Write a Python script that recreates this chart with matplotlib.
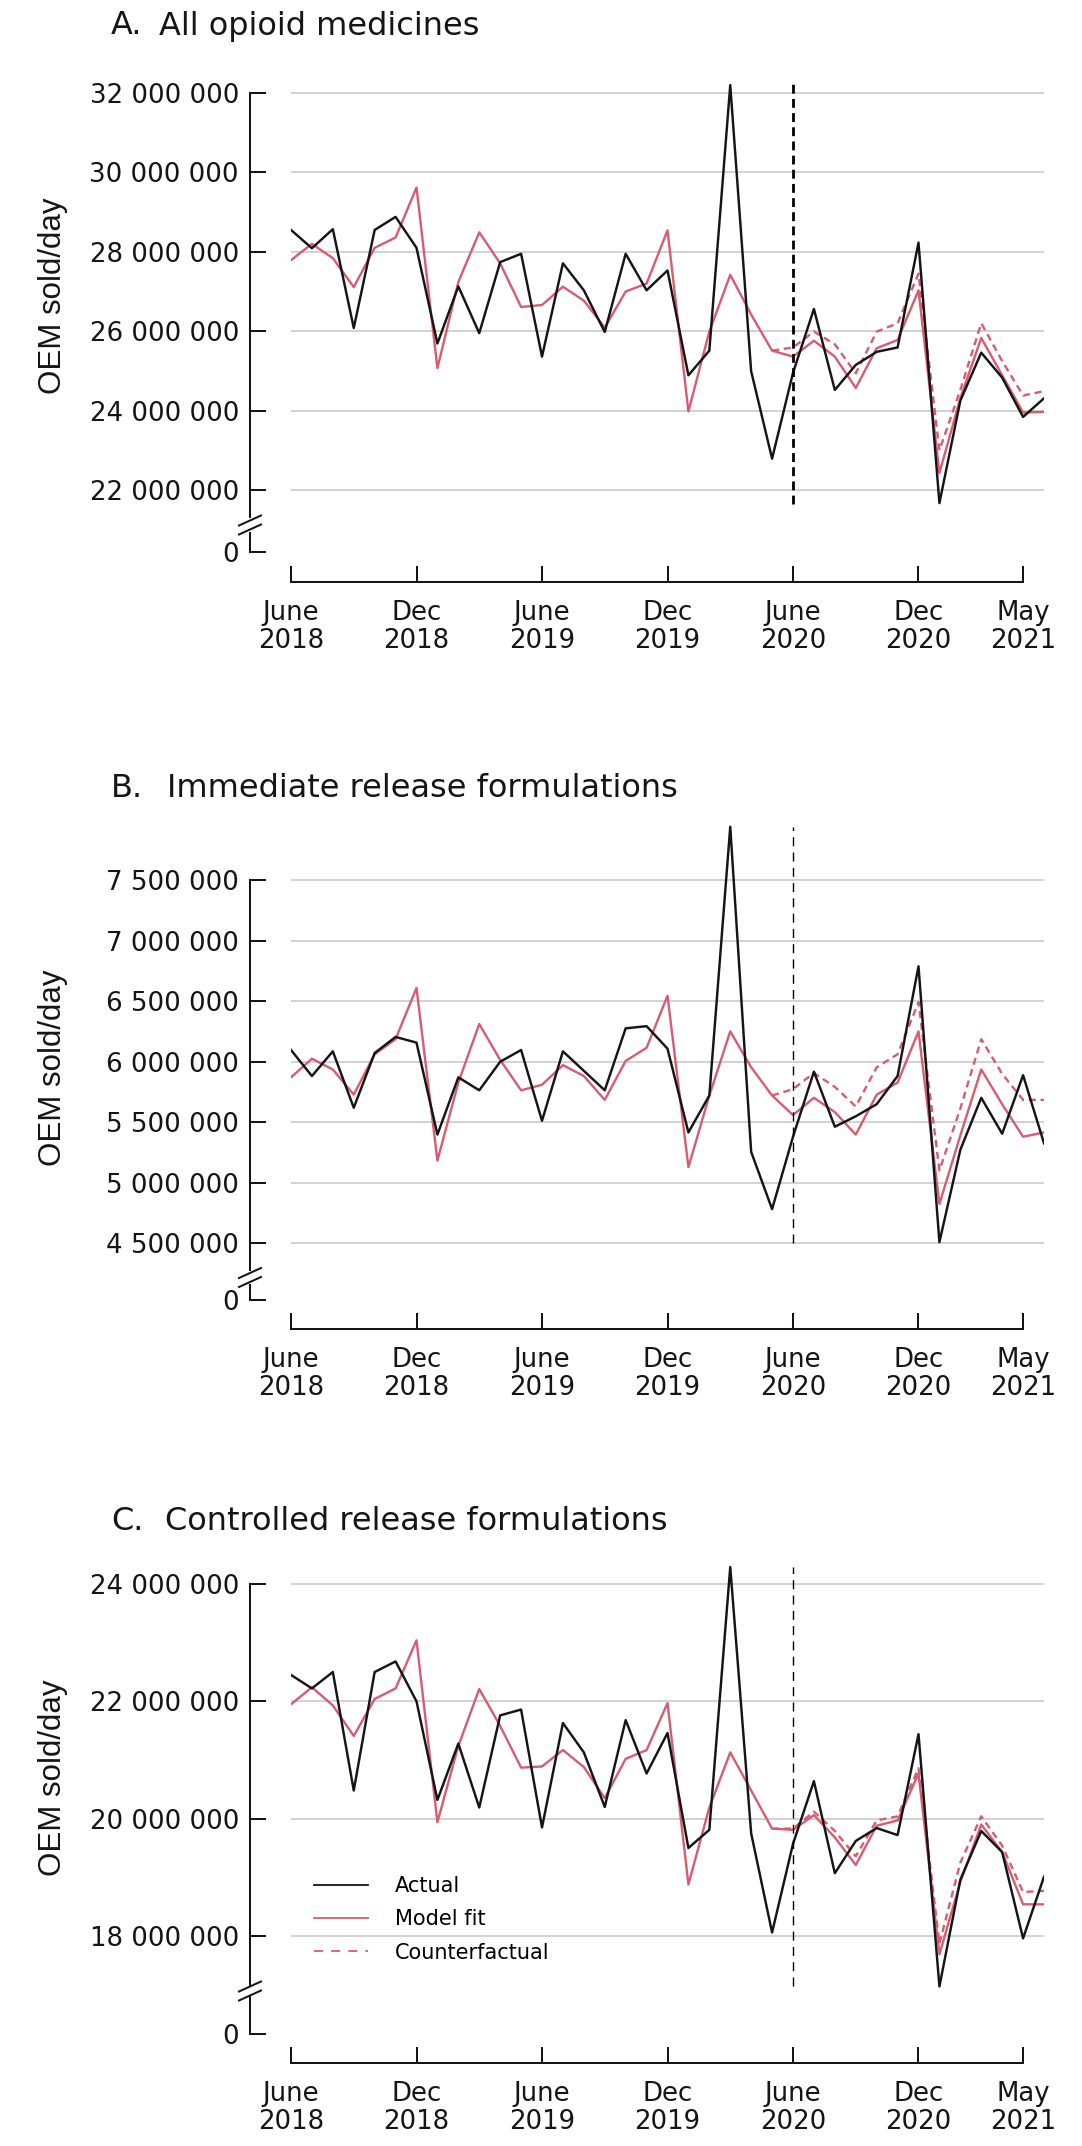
import numpy as np
import matplotlib
matplotlib.use('Agg')
import matplotlib.pyplot as plt
from matplotlib.lines import Line2D

# ---------------- data (millions of OEM sold/day) ----------------
months = np.arange(37)                # June 2018 ... June 2021
cf_start = 23                         # counterfactual drawn from May 2020

xtick_pos = [0, 6, 12, 18, 24, 30, 35]
xtick_labels = ['June\n2018', 'Dec\n2018', 'June\n2019', 'Dec\n2019',
                'June\n2020', 'Dec\n2020', 'May\n2021']

actual_A = [28.55, 28.09, 28.57, 26.08, 28.55, 28.88, 28.10, 25.69, 27.13, 25.95,
            27.74, 27.95, 25.36, 27.71, 27.03, 25.98, 27.95, 27.03, 27.53, 24.89,
            25.51, 32.20, 24.99, 22.79, 24.95, 26.56, 24.52, 25.15, 25.48, 25.59,
            28.23, 21.67, 24.25, 25.46, 24.83, 23.84, 24.31]
model_A = [27.79, 28.20, 27.84, 27.11, 28.10, 28.36, 29.62, 25.07, 27.24, 28.49,
           27.71, 26.61, 26.66, 27.12, 26.77, 26.09, 27.00, 27.20, 28.54, 23.98,
           25.99, 27.42, 26.42, 25.51, 25.36, 25.76, 25.36, 24.57, 25.57, 25.78,
           27.03, 22.43, 24.31, 25.83, 24.89, 23.95, 23.97]
cf_A = [25.51, 25.59, 25.99, 25.67, 24.94, 25.99, 26.20, 27.45, 23.00, 24.52,
        26.20, 25.25, 24.38, 24.49]

actual_B = [6.095, 5.880, 6.084, 5.618, 6.070, 6.203, 6.156, 5.396, 5.869, 5.762,
            5.998, 6.095, 5.510, 6.084, 5.923, 5.762, 6.274, 6.292, 6.106, 5.414,
            5.719, 7.940, 5.253, 4.780, 5.378, 5.916, 5.461, 5.547, 5.647, 5.880,
            6.787, 4.507, 5.270, 5.700, 5.403, 5.887, 5.324]
model_B = [5.869, 6.023, 5.934, 5.726, 6.060, 6.185, 6.608, 5.181, 5.826, 6.310,
           6.013, 5.762, 5.808, 5.970, 5.880, 5.683, 6.005, 6.113, 6.543, 5.127,
           5.719, 6.249, 5.952, 5.719, 5.557, 5.700, 5.582, 5.396, 5.726, 5.826,
           6.249, 4.823, 5.389, 5.934, 5.647, 5.378, 5.414]
cf_B = [5.719, 5.772, 5.905, 5.790, 5.629, 5.952, 6.060, 6.490, 5.100, 5.611,
        6.185, 5.898, 5.683, 5.683]

actual_C = [22.45, 22.22, 22.50, 20.48, 22.50, 22.68, 22.00, 20.32, 21.28, 20.19,
            21.76, 21.86, 19.85, 21.63, 21.13, 20.20, 21.68, 20.77, 21.46, 19.50,
            19.81, 24.29, 19.75, 18.06, 19.57, 20.64, 19.07, 19.62, 19.84, 19.72,
            21.44, 17.14, 18.96, 19.79, 19.43, 17.96, 19.01]
model_C = [21.95, 22.24, 21.93, 21.41, 22.04, 22.22, 23.04, 19.94, 21.24, 22.21,
           21.58, 20.87, 20.89, 21.17, 20.88, 20.35, 21.02, 21.17, 21.97, 18.88,
           20.19, 21.13, 20.48, 19.83, 19.81, 20.06, 19.68, 19.21, 19.88, 19.97,
           20.77, 17.69, 18.92, 19.90, 19.43, 18.54, 18.54]
cf_C = [19.83, 19.83, 20.12, 19.79, 19.36, 19.97, 20.04, 20.86, 17.87, 19.25,
        20.04, 19.54, 18.75, 18.77]

yticks_A = [22, 24, 26, 28, 30, 32]
yticks_B = [4.5, 5.0, 5.5, 6.0, 6.5, 7.0, 7.5]
yticks_C = [18, 20, 22, 24]

legend_labels = ['Actual', 'Model fit', 'Counterfactual']

# ---------------- styling / layout ----------------
W, H = 1082, 2146
fig = plt.figure(figsize=(W / 100, H / 100), dpi=100)
plt.rcParams['font.family'] = ['DejaVu Sans']


def fx(p):
    return p / W


def fy(p):
    return 1 - p / H


BLACK = '#151515'
RED = '#d65c70'
GRID = '#c6c6c6'
AX_L, AX_R = 291, 1044
SPINE_OUT = 41 * 0.72   # px -> pt
TICK_LEN = 16 * 0.72
TICK_W = 1.45


def fmt(v):
    return '{:,.0f}'.format(v).replace(',', ' ')


panels = [
    dict(letter='A.', title='All opioid medicines', title_x=159, title_px=26,
         actual=actual_A, model=model_A, cf=cf_A, yticks=yticks_A,
         tick_top_px=93, tick_low_px=490, top_px=78, bottom_px=517,
         spine_end_px=517, lower_start_px=533, zero_px=552, axis_px=582,
         ylabel_px=296, vline=(21.65, 32.25), vlw=2.0, vdash=(0, (3.2, 1.9))),
    dict(letter='B.', title='Immediate release formulations', title_x=167, title_px=789,
         actual=actual_B, model=model_B, cf=cf_B, yticks=yticks_B,
         tick_top_px=880, tick_low_px=1243, top_px=820, bottom_px=1270,
         spine_end_px=1270, lower_start_px=1285, zero_px=1300, axis_px=1329,
         ylabel_px=1068, vline=(4.5, 7.94), vlw=1.0, vdash=(0, (6.5, 4.5))),
    dict(letter='C.', title='Controlled release formulations', title_x=165, title_px=1522,
         actual=actual_C, model=model_C, cf=cf_C, yticks=yticks_C,
         tick_top_px=1584, tick_low_px=1936, top_px=1560, bottom_px=1995,
         spine_end_px=1985, lower_start_px=1997, zero_px=2034, axis_px=2063,
         ylabel_px=1778, vline=(17.14, 24.29), vlw=1.0, vdash=(0, (6.5, 4.5))),
]

for i, p in enumerate(panels):
    top_tick = p['yticks'][-1] * 1e6
    low_tick = p['yticks'][0] * 1e6
    vpp = (top_tick - low_tick) / (p['tick_low_px'] - p['tick_top_px'])
    y_top = top_tick + (p['tick_top_px'] - p['top_px']) * vpp
    y_bot = low_tick - (p['bottom_px'] - p['tick_low_px']) * vpp
    spine_low = low_tick - (p['spine_end_px'] - p['tick_low_px']) * vpp

    ax = fig.add_axes([fx(AX_L), fy(p['bottom_px']), fx(AX_R) - fx(AX_L),
                       (p['bottom_px'] - p['top_px']) / H])
    ax.set_xlim(0, 36)
    ax.set_ylim(y_bot, y_top)
    for s in ['top', 'right', 'bottom']:
        ax.spines[s].set_visible(False)
    ax.spines['left'].set_position(('outward', SPINE_OUT))
    ax.spines['left'].set_bounds(spine_low, top_tick)
    ax.spines['left'].set_linewidth(TICK_W)
    ax.spines['left'].set_color(BLACK)
    yt = [v * 1e6 for v in p['yticks']]
    ax.set_yticks(yt)
    ax.set_yticklabels([fmt(v) for v in yt])
    ax.tick_params(axis='y', direction='in', length=TICK_LEN, width=TICK_W,
                   pad=8, labelsize=18.7, colors=BLACK)
    ax.set_xticks([])
    ax.grid(axis='y', color=GRID, lw=1.1)
    ax.set_axisbelow(True)
    ax.patch.set_visible(False)

    a = np.array(p['actual']) * 1e6
    m = np.array(p['model']) * 1e6
    c = np.array(p['cf']) * 1e6
    ax.plot(months[cf_start:], c, color=RED, lw=1.7, ls=(0, (3, 2)), zorder=3)
    ax.plot(months, m, color=RED, lw=1.7, zorder=4)
    ax.plot(months, a, color=BLACK, lw=1.75, zorder=5)
    ax.vlines(xtick_pos[4], p['vline'][0] * 1e6, p['vline'][1] * 1e6,
              colors='#000000', lw=p['vlw'], linestyles=[p['vdash']], zorder=6)

    # lower axis: zero tick and x axis
    ax0 = fig.add_axes([fx(AX_L), fy(p['axis_px']), fx(AX_R) - fx(AX_L),
                        (p['axis_px'] - p['lower_start_px']) / H])
    ax0.set_xlim(0, 36)
    ax0.set_ylim(-(p['axis_px'] - p['zero_px']), p['zero_px'] - p['lower_start_px'])
    ax0.patch.set_visible(False)
    for s in ['top', 'right']:
        ax0.spines[s].set_visible(False)
    ax0.spines['left'].set_position(('outward', SPINE_OUT))
    ax0.spines['left'].set_bounds(0, p['zero_px'] - p['lower_start_px'])
    ax0.spines['left'].set_linewidth(TICK_W)
    ax0.spines['left'].set_color(BLACK)
    ax0.spines['bottom'].set_bounds(xtick_pos[0], xtick_pos[-1])
    ax0.spines['bottom'].set_linewidth(TICK_W)
    ax0.spines['bottom'].set_color(BLACK)
    ax0.set_yticks([0])
    ax0.set_yticklabels(['0'])
    ax0.tick_params(axis='y', direction='in', length=TICK_LEN, width=TICK_W,
                    pad=8, labelsize=18.7, colors=BLACK)
    ax0.set_xticks(xtick_pos)
    ax0.set_xticklabels(xtick_labels)
    ax0.tick_params(axis='x', direction='in', length=TICK_LEN, width=TICK_W,
                    pad=13, labelsize=18.7, colors=BLACK)
    for lab in ax0.get_xticklabels():
        lab.set_linespacing(1.08)

    # axis break marks
    mid = (p['spine_end_px'] + p['lower_start_px']) / 2
    for cy in (mid - 4.5, mid + 4.5):
        fig.add_artist(Line2D([fx(250 - 11), fx(250 + 11)], [fy(cy + 5), fy(cy - 5)],
                              transform=fig.transFigure, color=BLACK, lw=TICK_W))

    # titles and y label
    fig.text(fx(111), fy(p['title_px']), p['letter'], fontsize=23, va='center',
             ha='left', color=BLACK)
    fig.text(fx(p['title_x']), fy(p['title_px']), p['title'], fontsize=23,
             va='center', ha='left', color=BLACK)
    fig.text(fx(53), fy(p['ylabel_px']), 'OEM sold/day', rotation=90, va='center',
             ha='center', fontsize=22.5, family=['Liberation Sans', 'DejaVu Sans'],
             color=BLACK)

    if i == 2:
        handles = [Line2D([], [], color=BLACK, lw=1.3),
                   Line2D([], [], color=RED, lw=1.3),
                   Line2D([], [], color=RED, lw=1.3, ls=(0, (5, 4.5)))]
        ax.legend(handles, legend_labels, loc='upper left',
                  bbox_to_anchor=(fx(314), fy(1876)), bbox_transform=fig.transFigure,
                  frameon=False, fontsize=15, handlelength=2.6, handletextpad=1.3,
                  labelspacing=0.64, borderpad=0, borderaxespad=0)

fig.savefig('out.png', dpi=100)
